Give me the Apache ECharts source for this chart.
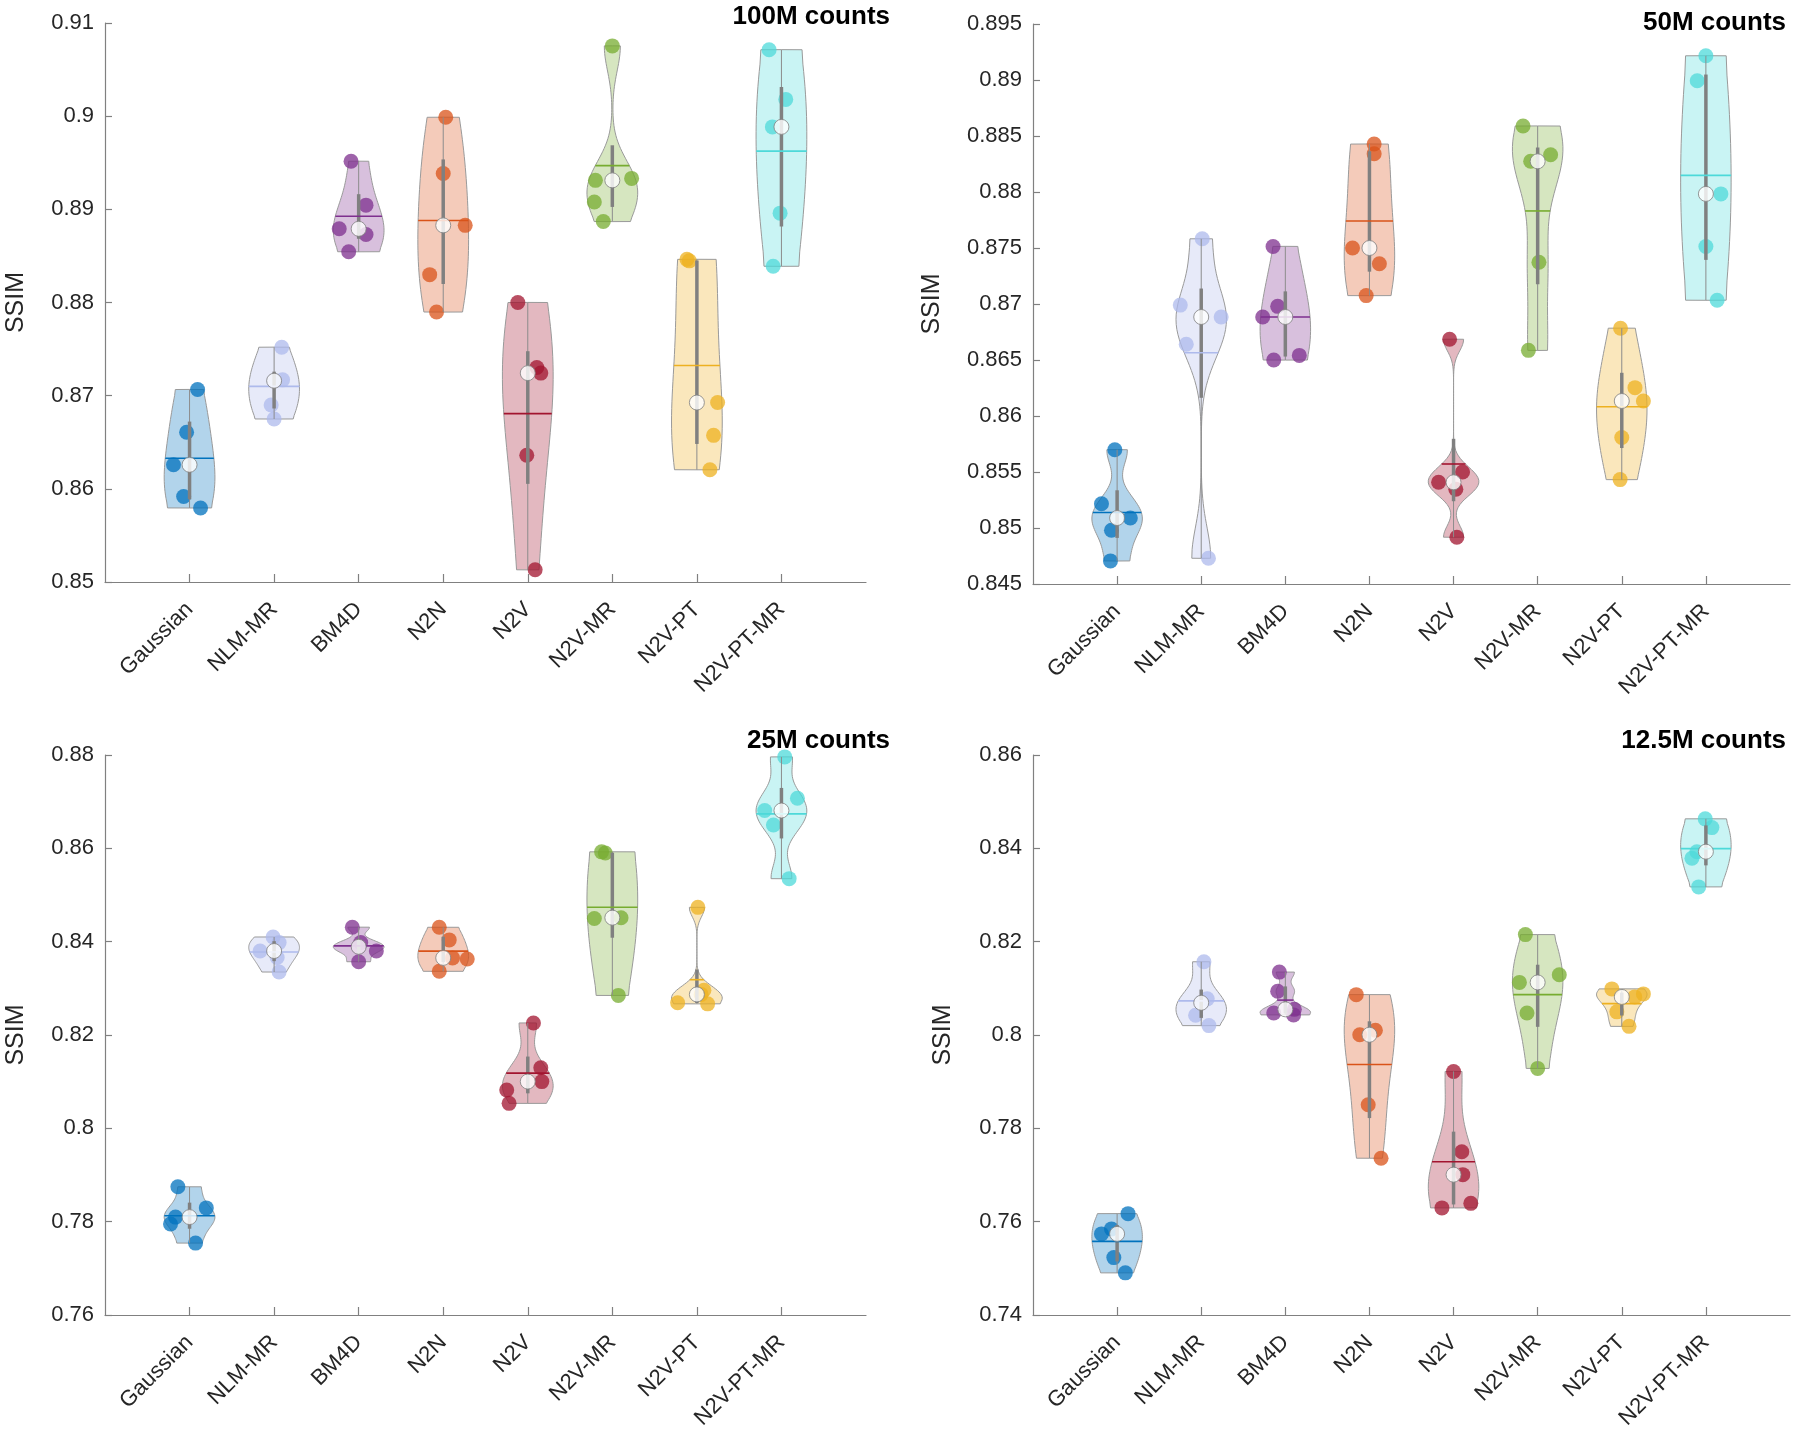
<!DOCTYPE html>
<html><head><meta charset="utf-8">
<script src="https://cdn.jsdelivr.net/npm/echarts@6/dist/echarts.min.js"></script>
<style>html,body{margin:0;padding:0;background:#fff}#c{width:1800px;height:1433px}</style>
</head><body><div id="c"></div>
<script>
// ---------------- data ----------------
const methods = ['Gaussian','NLM-MR','BM4D','N2N','N2V','N2V-MR','N2V-PT','N2V-PT-MR'];
const panelTitles = ['100M counts','50M counts','25M counts','12.5M counts'];
const yTicks100M = [0.85,0.86,0.87,0.88,0.89,0.90,0.91];
const yTicks50M  = [0.845,0.85,0.855,0.86,0.865,0.87,0.875,0.88,0.885,0.89,0.895];
const yTicks25M  = [0.76,0.78,0.80,0.82,0.84,0.86,0.88];
const yTicks12M  = [0.74,0.76,0.78,0.80,0.82,0.84,0.86];

const ssim100M = [
  [0.87066,0.86607,0.86258,0.85918,0.85795],
  [0.8752,0.8717,0.8716,0.8690,0.8675],
  [0.89516,0.89045,0.88791,0.88730,0.88545],
  [0.89988,0.89385,0.88828,0.88299,0.87898],
  [0.88000,0.87303,0.87242,0.86361,0.85131],
  [0.90754,0.89332,0.89311,0.89078,0.88869],
  [0.88463,0.88447,0.86926,0.86574,0.86205],
  [0.90713,0.90180,0.89885,0.88959,0.88389]
];
const jitter100M = [
  [0.095,-0.035,-0.19,-0.07,0.13],
  [0.09,0.10,0.0,-0.035,0.0],
  [-0.09,0.087,-0.23,0.087,-0.118],
  [0.03,0.0,0.26,-0.16,-0.079],
  [-0.118,0.107,0.154,-0.012,0.087],
  [0.0,0.228,-0.2,-0.213,-0.107],
  [-0.118,-0.09,0.245,0.197,0.154],
  [-0.146,0.051,-0.107,-0.016,-0.098]
];
const ssim50M = [
  [0.85699,0.85216,0.85089,0.84980,0.84706],
  [0.87582,0.86990,0.86884,0.86640,0.84730],
  [0.87514,0.86979,0.86884,0.86541,0.86500],
  [0.88428,0.88342,0.87500,0.87360,0.87075],
  [0.86685,0.85500,0.85408,0.85346,0.84918],
  [0.88589,0.88332,0.88274,0.87373,0.86586],
  [0.86784,0.86253,0.86134,0.85808,0.85432],
  [0.89216,0.88993,0.87983,0.87514,0.87034]
];
const jitter50M = [
  [-0.027,-0.186,0.157,-0.067,-0.079],
  [0.012,-0.249,0.237,-0.178,0.086],
  [-0.146,-0.091,-0.269,0.166,-0.138],
  [0.056,0.056,-0.201,0.118,-0.039],
  [-0.047,0.107,-0.178,0.027,0.039],
  [-0.174,0.154,-0.083,0.015,-0.11],
  [-0.015,0.157,0.257,0.0,-0.02],
  [0.0,-0.103,0.178,0.0,0.134]
];
const ssim25M = [
  [0.78747,0.78295,0.78098,0.77951,0.77541],
  [0.84100,0.83980,0.83800,0.83660,0.83350],
  [0.84310,0.83980,0.83890,0.83800,0.83570],
  [0.84308,0.84038,0.83652,0.83628,0.83365],
  [0.82258,0.81298,0.81002,0.80822,0.80535],
  [0.85925,0.85900,0.84514,0.84497,0.82848],
  [0.84735,0.82960,0.82870,0.82692,0.82668],
  [0.87959,0.87073,0.86810,0.86499,0.85350]
];
const jitter25M = [
  [-0.138,0.198,-0.166,-0.225,0.071],
  [-0.012,0.059,-0.166,0.036,0.059],
  [-0.075,0.024,0.0,0.209,0.0],
  [-0.047,0.071,0.11,0.284,-0.047],
  [0.067,0.154,0.166,-0.249,-0.221],
  [-0.127,-0.083,0.103,-0.213,0.071],
  [0.012,0.083,0.05,-0.228,0.127],
  [0.039,0.189,-0.198,-0.095,0.091]
];
const ssim12M = [
  [0.76172,0.75845,0.75738,0.75230,0.74903],
  [0.81569,0.80775,0.80690,0.80422,0.80201],
  [0.81348,0.80939,0.80550,0.80472,0.80431],
  [0.80865,0.80103,0.80005,0.78506,0.77360],
  [0.79219,0.77499,0.77007,0.76393,0.76295],
  [0.82151,0.81291,0.81127,0.80472,0.79284],
  [0.80988,0.80881,0.80816,0.80496,0.80185],
  [0.84632,0.84444,0.83928,0.83789,0.83174]
];
const jitter12M = [
  [0.13,-0.067,-0.186,-0.039,0.098],
  [0.032,0.071,0.0,-0.067,0.091],
  [-0.071,-0.091,0.107,-0.138,0.098],
  [-0.157,0.071,-0.115,-0.015,0.138],
  [0.0,0.098,0.11,0.205,-0.138],
  [-0.146,0.257,-0.217,-0.127,0.0],
  [-0.118,0.257,0.154,-0.059,0.086],
  [-0.008,0.071,-0.107,-0.166,-0.086]
];

// ---------------- style ----------------
const palette = ['#0072BD','#AEBAEC','#7E2F8E','#D95319','#A2142F','#77AC30','#EDB120','#4DD9D9'];
const FONT = 'Liberation Sans, Arial, Helvetica, sans-serif';
const panels = [
  {data: ssim100M, jit: jitter100M, ticks: yTicks100M, grid:{left:105, top:23, width:761, height:559}, titleRight:910, titleTop:4, nameGap:76},
  {data: ssim50M,  jit: jitter50M,  ticks: yTicks50M,  grid:{left:1033, top:24, width:757, height:560}, titleRight:14, titleTop:10, nameGap:88},
  {data: ssim25M,  jit: jitter25M,  ticks: yTicks25M,  grid:{left:105, top:755, width:761, height:560}, titleRight:910, titleTop:728, nameGap:76},
  {data: ssim12M,  jit: jitter12M,  ticks: yTicks12M,  grid:{left:1033, top:755, width:757, height:560}, titleRight:14, titleTop:728, nameGap:77}
];

function rgba(hex, a){const r=parseInt(hex.slice(1,3),16),g=parseInt(hex.slice(3,5),16),b=parseInt(hex.slice(5,7),16);return `rgba(${r},${g},${b},${a})`;}

// ---------------- violin statistics (as in Violinplot-Matlab / ksdensity) ----------------
function quantileM(s,p){const n=s.length;const pos=n*p+0.5;if(pos<=1)return s[0];if(pos>=n)return s[n-1];const i=Math.floor(pos);const f=pos-i;return s[i-1]+f*(s[i]-s[i-1]);}
function medianOf(a){return quantileM([...a].sort((x,y)=>x-y),0.5);}
function interp(xs,ys,x){for(let k=0;k<xs.length-1;k++){if(x>=xs[k]&&x<=xs[k+1]){const t=(x-xs[k])/((xs[k+1]-xs[k])||1);return ys[k]+t*(ys[k+1]-ys[k]);}}return 0;}
function violinStats(data){
  const s=[...data].sort((a,b)=>a-b);const n=s.length;
  const med=quantileM(s,0.5),q1=quantileM(s,0.25),q3=quantileM(s,0.75);
  const mean=data.reduce((a,b)=>a+b,0)/n;
  let sig=medianOf(data.map(v=>Math.abs(v-med)))/0.6745;
  if(!(sig>0)) sig=(s[n-1]-s[0])/2||1e-3;
  const u=sig*Math.pow(4/(3*n),0.2);
  const lo=s[0]-3*u,hi=s[n-1]+3*u,m=100;
  let vals=[],dens=[];
  for(let k=0;k<m;k++){
    const x=lo+(hi-lo)*k/(m-1);
    if(x>=s[0]&&x<=s[n-1]){let d=0;for(const v of data){const z=(x-v)/u;d+=Math.exp(-0.5*z*z);}vals.push(x);dens.push(d/(n*u*Math.sqrt(2*Math.PI)));}
  }
  vals[0]=s[0];vals[vals.length-1]=s[n-1];
  vals=[s[0]*(1-1e-5),...vals,s[n-1]*(1+1e-5)];dens=[0,...dens,0];
  const maxd=Math.max(...dens);const hw=dens.map(d=>d/maxd*0.3);
  const iqr=q3-q1;
  let lw=q1-1.5*iqr;lw=Math.max(lw,Math.min(...data.filter(v=>v>lw)));
  let uw=q3+1.5*iqr;uw=Math.min(uw,Math.max(...data.filter(v=>v<uw)));
  return {vals,hw,med,q1,q3,mean,lw,uw,meanW:interp(vals,hw,mean)};
}

// ---------------- build option ----------------
const option = {backgroundColor:'#fff', animation:false, grid:[], xAxis:[], yAxis:[], title:[], series:[]};
panels.forEach((p,pi)=>{
  const stats = p.data.map(violinStats);
  option.grid.push(Object.assign({containLabel:false}, p.grid));
  option.title.push({text:panelTitles[pi], right:p.titleRight, top:p.titleTop, padding:0,
    textStyle:{fontSize:26,fontWeight:'bold',color:'#000',fontFamily:FONT}});
  option.xAxis.push({type:'value', gridIndex:pi, min:0, max:9, interval:1,
    axisLine:{show:true,onZero:false,lineStyle:{color:'#808080',width:1.2}},
    axisTick:{show:true,inside:true,length:8,customValues:[1,2,3,4,5,6,7,8],lineStyle:{color:'#808080',width:1.2}},
    axisLabel:{show:true,customValues:[1,2,3,4,5,6,7,8],rotate:45,margin:24,fontSize:22,color:'#262626',fontFamily:FONT,
      formatter:v=>methods[Math.round(v)-1]||''},
    splitLine:{show:false}});
  const t=p.ticks;
  option.yAxis.push({type:'value', gridIndex:pi, min:t[0], max:t[t.length-1], interval:+(t[1]-t[0]).toFixed(6),
    name:'SSIM', nameLocation:'middle', nameRotate:90, nameGap:p.nameGap,
    nameTextStyle:{fontSize:25,color:'#262626',fontFamily:FONT},
    axisLine:{show:true,onZero:false,lineStyle:{color:'#808080',width:1.2}},
    axisTick:{show:true,inside:true,length:7,lineStyle:{color:'#808080',width:1.2}},
    axisLabel:{fontSize:22,color:'#262626',fontFamily:FONT,margin:11,formatter:v=>String(+(+v).toFixed(4))},
    splitLine:{show:false}});
  // violin bodies
  option.series.push({type:'custom', xAxisIndex:pi, yAxisIndex:pi, z:1, silent:true, clip:false,
    data: stats.map((s,i)=>[i+1,s.med]), encode:{x:0,y:1},
    renderItem:(params,api)=>{
      const i=params.dataIndex, s=stats[i], pos=i+1, pts=[];
      for(let k=0;k<s.vals.length;k++) pts.push(api.coord([pos+s.hw[k],s.vals[k]]));
      for(let k=s.vals.length-1;k>=0;k--) pts.push(api.coord([pos-s.hw[k],s.vals[k]]));
      return {type:'polygon',shape:{points:pts},style:{fill:rgba(palette[i],0.3),stroke:'#9a9a9a',lineWidth:1}};
    }});
  // jittered points
  const pts=[];
  p.data.forEach((arr,i)=>arr.forEach((v,k)=>pts.push({value:[i+1+p.jit[i][k],v],itemStyle:{color:palette[i]}})));
  option.series.push({type:'scatter', xAxisIndex:pi, yAxisIndex:pi, z:2, silent:true, symbol:'circle', symbolSize:15,
    itemStyle:{opacity:0.75}, data:pts});
  // whisker, box, mean
  option.series.push({type:'custom', xAxisIndex:pi, yAxisIndex:pi, z:3, silent:true, clip:false,
    data: stats.map((s,i)=>[i+1,s.med]), encode:{x:0,y:1},
    renderItem:(params,api)=>{
      const i=params.dataIndex, s=stats[i], pos=i+1;
      const a=api.coord([pos,s.lw]), b=api.coord([pos,s.uw]);
      const c=api.coord([pos,s.q1]), d=api.coord([pos,s.q3]);
      const m1=api.coord([pos-s.meanW,s.mean]), m2=api.coord([pos+s.meanW,s.mean]);
      return {type:'group',children:[
        {type:'line',shape:{x1:a[0],y1:a[1],x2:b[0],y2:b[1]},style:{stroke:'#8c8c8c',lineWidth:1}},
        {type:'line',shape:{x1:c[0],y1:c[1],x2:d[0],y2:d[1]},style:{stroke:'#808080',lineWidth:3.5}},
        {type:'line',shape:{x1:m1[0],y1:m1[1],x2:m2[0],y2:m2[1]},style:{stroke:palette[i],lineWidth:1.6}}
      ]};
    }});
  // medians
  option.series.push({type:'scatter', xAxisIndex:pi, yAxisIndex:pi, z:4, silent:true, symbol:'circle', symbolSize:15,
    itemStyle:{color:'#ffffff',borderColor:'#808080',borderWidth:1},
    data: stats.map((s,i)=>[i+1,s.med])});
});

const chart = echarts.init(document.getElementById('c'), null, {renderer:'canvas', width:1800, height:1433});
chart.setOption(option);
</script></body></html>
